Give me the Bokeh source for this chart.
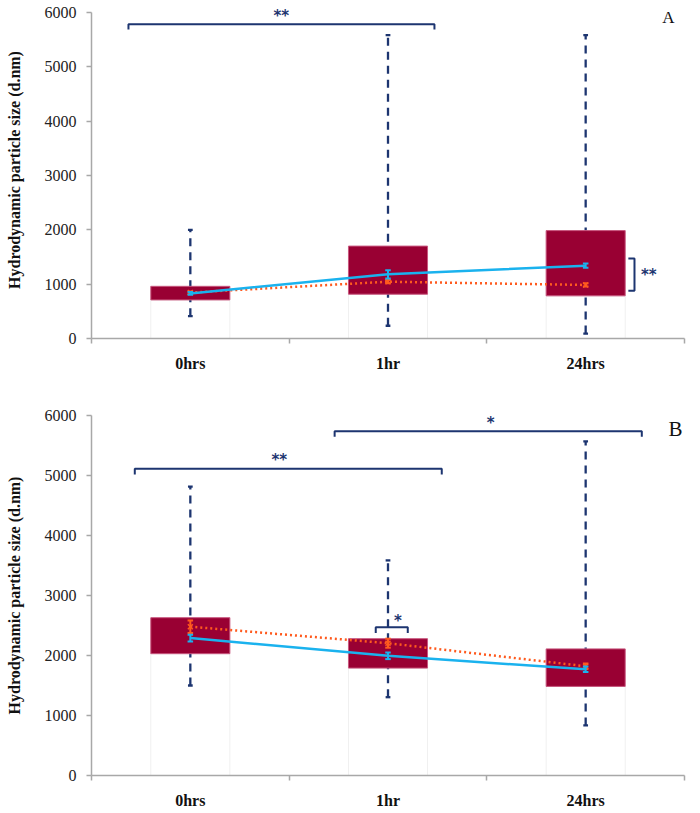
import numpy as np
from bokeh.plotting import figure
from bokeh.layouts import column
from bokeh.models import FixedTicker, Range1d, Label
from bokeh.embed import file_html
from bokeh.resources import INLINE

categories = ["0hrs", "1hr", "24hrs"]
y_ticks = [0, 1000, 2000, 3000, 4000, 5000, 6000]

# Panel A values
a_q1 = [710, 815, 785]
a_q3 = [960, 1700, 1985]
a_min = [410, 235, 90]
a_max = [2000, 5580, 5580]
a_blue = [830, 1180, 1340]
a_blue_err = [25, 75, 40]
a_orange = [845, 1045, 985]
a_orange_err = [20, 30, 30]

# Panel B values
b_q1 = [2030, 1790, 1485]
b_q3 = [2630, 2280, 2110]
b_min = [1500, 1305, 835]
b_max = [4815, 3585, 5570]
b_blue = [2290, 1995, 1770]
b_blue_err = [55, 55, 45]
b_orange = [2480, 2205, 1820]
b_orange_err = [105, 75, 45]

# significance brackets: (x start, x end, level, label, label x, label y)
a_brackets = [(0.187, 1.735, 5780, "**", 0.96, 5935)]
b_brackets = [(0.219, 1.772, 5111, "**", 0.95, 5260),
              (1.230, 2.784, 5739, "*", 2.02, 5880),
              (1.438, 1.600, 2472, "*", 1.55, 2580)]
# side bracket in A: (x, low, high, label, label x, label y)
a_side = (2.747, 878, 1473, "**", 2.78, 1175)

NAVY = "#1d3570"
BOX = "#990033"
BLUE = "#1ab2ee"
ORANGE = "#ff5a1e"
AXIS = "#a8a8a8"


def star(p, x, y, text, align="center"):
    p.add_layout(Label(x=x, y=y, text=text, x_units="data", y_units="data",
                       text_align=align, text_baseline="middle",
                       text_color=NAVY, text_font="DejaVu Sans",
                       text_font_style="bold", text_font_size="15px"))


def make_panel(q1, q3, lo, hi, blue, blue_err, orange, orange_err,
               brackets, letter, letter_xy, letter_size, height,
               border_top, border_bottom, border_right, y_end):
    p = figure(width=700, height=height, x_range=Range1d(0, 3),
               y_range=Range1d(0, y_end), output_backend="svg",
               toolbar_location=None, min_border_left=91,
               min_border_right=border_right, min_border_top=border_top,
               min_border_bottom=border_bottom)
    p.outline_line_color = None
    p.grid.visible = False
    p.background_fill_color = "white"

    xs = np.arange(len(categories)) + 0.5
    q1 = np.array(q1)
    q3 = np.array(q3)
    lo = np.array(lo)
    hi = np.array(hi)
    blue = np.array(blue)
    orange = np.array(orange)
    be = np.array(blue_err)
    oe = np.array(orange_err)

    # faint lower bar outlines
    p.quad(left=xs - 0.2, right=xs + 0.2, bottom=0, top=q1,
           fill_color=None, line_color="#f0f0f0", line_width=1)
    # whiskers
    p.segment(xs, lo, xs, hi, line_color=NAVY, line_width=2.3,
              line_dash="8 6")
    p.segment(xs - 0.012, hi, xs + 0.012, hi, line_color=NAVY, line_width=2.3)
    p.segment(xs - 0.012, lo, xs + 0.012, lo, line_color=NAVY, line_width=2.3)
    # boxes
    p.quad(left=xs - 0.2, right=xs + 0.2, bottom=q1, top=q3,
           fill_color=BOX, line_color="#c8567e", line_width=1)

    # orange dotted mean line with error bars
    p.line(xs, orange, line_color=ORANGE, line_width=2.5, line_dash="2 3")
    p.segment(xs, orange - oe, xs, orange + oe, line_color=ORANGE, line_width=2)
    p.segment(xs - 0.014, orange - oe, xs + 0.014, orange - oe,
              line_color=ORANGE, line_width=2)
    p.segment(xs - 0.014, orange + oe, xs + 0.014, orange + oe,
              line_color=ORANGE, line_width=2)
    p.scatter(xs, orange, marker="x", size=7, line_color=ORANGE, line_width=1.5)

    # blue solid mean line with error bars
    p.line(xs, blue, line_color=BLUE, line_width=2.5)
    p.segment(xs, blue - be, xs, blue + be, line_color=BLUE, line_width=2)
    p.segment(xs - 0.014, blue - be, xs + 0.014, blue - be,
              line_color=BLUE, line_width=2)
    p.segment(xs - 0.014, blue + be, xs + 0.014, blue + be,
              line_color=BLUE, line_width=2)

    # brackets
    for (x0, x1, yl, lab, tx, ty) in brackets:
        drop = 95
        p.line([x0, x0, x1, x1], [yl - drop, yl, yl, yl - drop],
               line_color=NAVY, line_width=2)
        star(p, tx, ty, lab)

    p.add_layout(Label(x=letter_xy[0], y=letter_xy[1], text=letter,
                       x_units="data", y_units="data", text_align="center",
                       text_baseline="middle", text_color="#111111",
                       text_font="Liberation Serif",
                       text_font_size=letter_size))

    # axes
    p.xaxis.ticker = FixedTicker(ticks=list(xs), minor_ticks=[0, 1, 2, 3])
    p.xaxis.major_label_overrides = {float(x): c for x, c in zip(xs, categories)}
    p.xaxis.major_tick_out = 0
    p.xaxis.major_tick_in = 0
    p.xaxis.minor_tick_out = 5
    p.xaxis.minor_tick_in = 0
    p.xaxis.minor_tick_line_color = AXIS
    p.xaxis.minor_tick_line_width = 1.5
    p.xaxis.axis_line_color = AXIS
    p.xaxis.axis_line_width = 1.5
    p.xaxis.major_label_standoff = 11
    p.xaxis.major_label_text_font = "Liberation Serif"
    p.xaxis.major_label_text_font_style = "bold"
    p.xaxis.major_label_text_font_size = "16px"
    p.xaxis.major_label_text_color = "#111111"

    p.yaxis.ticker = FixedTicker(ticks=y_ticks)
    p.yaxis.bounds = (y_ticks[0], y_ticks[-1])
    p.yaxis.major_tick_out = 5
    p.yaxis.major_tick_in = 0
    p.yaxis.minor_tick_line_color = None
    p.yaxis.major_tick_line_color = AXIS
    p.yaxis.major_tick_line_width = 1.5
    p.yaxis.axis_line_color = AXIS
    p.yaxis.axis_line_width = 1.5
    p.yaxis.major_label_standoff = 10
    p.yaxis.major_label_text_font = "Liberation Serif"
    p.yaxis.major_label_text_font_size = "16px"
    p.yaxis.major_label_text_color = "#222222"
    p.yaxis.axis_label = "Hydrodynamic particle size (d.nm)"
    p.yaxis.axis_label_text_font = "Liberation Serif"
    p.yaxis.axis_label_text_font_style = "bold"
    p.yaxis.axis_label_text_font_size = "16px"
    p.yaxis.axis_label_text_color = "#111111"
    p.yaxis.axis_label_standoff = 19
    return p


pA = make_panel(a_q1, a_q3, a_min, a_max, a_blue, a_blue_err, a_orange,
                a_orange_err, a_brackets, "A", (2.919, 5900), "17px",
                height=380, border_top=1, border_bottom=42, border_right=16,
                y_end=6200)
# side bracket for A
sx, slo, shi, slab, stx, sty = a_side
pA.line([sx - 0.031, sx, sx, sx - 0.031], [slo, slo, shi, shi],
        line_color=NAVY, line_width=2)
star(pA, stx, sty, slab, align="left")

pB = make_panel(b_q1, b_q3, b_min, b_max, b_blue, b_blue_err, b_orange,
                b_orange_err, b_brackets, "B", (2.955, 5783), "21px",
                height=433, border_top=35, border_bottom=38, border_right=6,
                y_end=6000)

layout = column(pA, pB, spacing=0)
open("out.html", "w").write(file_html(layout, INLINE))
